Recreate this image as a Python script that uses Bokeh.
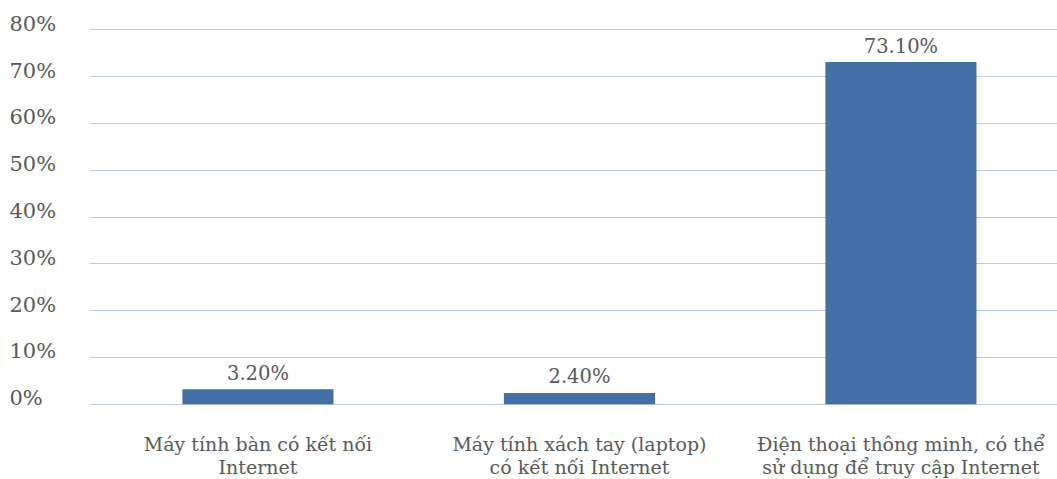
from bokeh.plotting import figure
from bokeh.models import ColumnDataSource, FixedTicker, Range1d
from bokeh.core.properties import value
from bokeh.embed import file_html
from bokeh.resources import INLINE

categories = ["Máy tính bàn có kết nối\nInternet",
              "Máy tính xách tay (laptop)\ncó kết nối Internet",
              "Điện thoại thông minh, có thể\nsử dụng để truy cập Internet"]
values = [3.2, 2.4, 73.1]
value_labels = ["3.20%", "2.40%", "73.10%"]
y_ticks = [0, 10, 20, 30, 40, 50, 60, 70, 80]
y_tick_labels = ["0%", "10%", "20%", "30%", "40%", "50%", "60%", "70%", "80%"]

FONT = "DejaVu Serif"
TXT = "#595959"
SHIFT = -7

xs = list(range(len(categories)))
line1 = [c.split("\n")[0] for c in categories]
line2 = [c.split("\n")[1] for c in categories]

p = figure(frame_width=968, frame_height=379, output_backend="svg", toolbar_location=None,
           x_range=Range1d(-0.524, 2.487), y_range=Range1d(-0.5, 80.5))
p.min_border_left = 89
p.min_border_right = 0
p.min_border_top = 27
p.min_border_bottom = 73
p.outline_line_color = None
p.xaxis.visible = False
p.yaxis.visible = False
p.xgrid.visible = False
p.ygrid.ticker = FixedTicker(ticks=y_ticks)
p.ygrid.grid_line_color = "#b8cbe0"
p.ygrid.grid_line_width = 1
p.background_fill_color = "white"
p.border_fill_color = "white"

src = ColumnDataSource(dict(x=xs, top=values, lab=value_labels, l1=line1, l2=line2))
p.vbar(x="x", top="top", bottom=0, width=0.47, source=src, fill_color="#416fa6", line_color=None)

p.text(x="x", y="top", text="lab", source=src, text_font=value(FONT), text_font_size="19.5px",
       text_color=TXT, text_align="center", text_baseline="alphabetic", y_offset=-9 + SHIFT, level="overlay")

p.text(x="x", y=0, text="l1", source=src, text_font=value(FONT), text_font_size="19px",
       text_color=TXT, text_align="center", text_baseline="alphabetic", y_offset=47 + SHIFT, level="overlay")
p.text(x="x", y=0, text="l2", source=src, text_font=value(FONT), text_font_size="19px",
       text_color=TXT, text_align="center", text_baseline="alphabetic", y_offset=70 + SHIFT, level="overlay")

tsrc = ColumnDataSource(dict(x=[-0.524] * len(y_ticks), y=y_ticks, t=y_tick_labels))
p.text(x="x", y="y", text="t", source=tsrc, text_font=value(FONT), text_font_size="21px",
       text_color=TXT, text_align="left", text_baseline="alphabetic", x_offset=-80, y_offset=1 + SHIFT,
       level="overlay")

open("out.html", "w").write(file_html(p, INLINE))
